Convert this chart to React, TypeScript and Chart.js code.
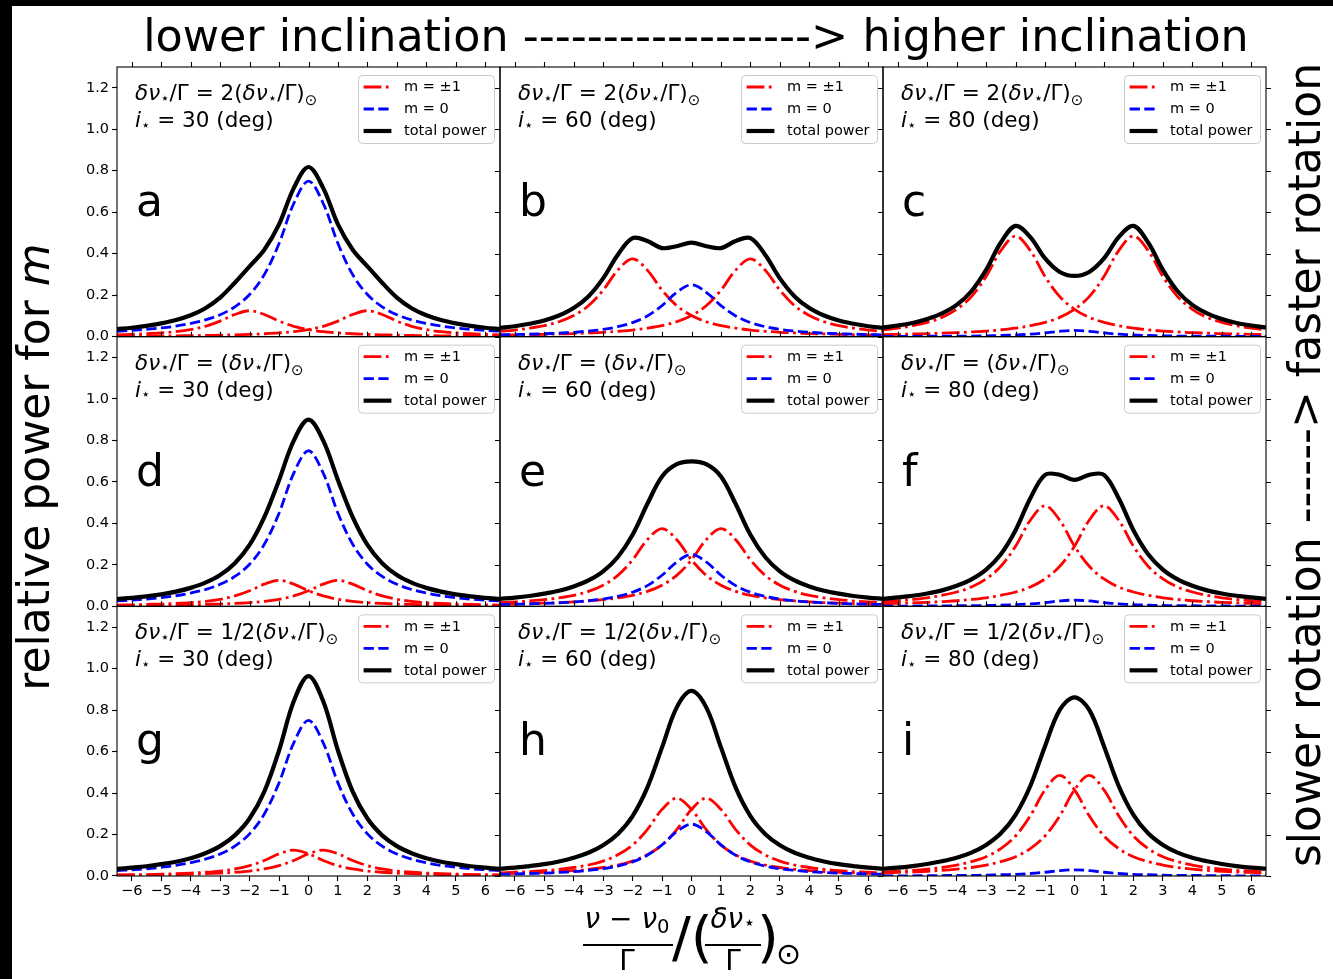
import React, { useEffect, useRef } from 'react';
import { Chart, registerables } from 'chart.js';
Chart.register(...registerables);

// ---------------- data ----------------
const X_VALUES = [-6.5, -6, -5.5, -5, -4.5, -4, -3.5, -3, -2.5, -2, -1.5, -1, -0.5, 0, 0.5, 1, 1.5, 2, 2.5, 3, 3.5, 4, 4.5, 5, 5.5, 6, 6.5];
const X_TICKS = [-6, -5, -4, -3, -2, -1, 0, 1, 2, 3, 4, 5, 6];
const Y_TICKS = [0, 0.2, 0.4, 0.6, 0.8, 1.0, 1.2];

const PANEL_LETTERS = ['a', 'b', 'c', 'd', 'e', 'f', 'g', 'h', 'i'];
const INCLINATIONS = ['30', '60', '80'];
const SPLIT_FACTORS = ['2', '', '1/2'];
const LEGEND_LABELS = ['m = \u00b11', 'm = 0', 'total power'];

// m = 0 component (same for every rotation rate)
const M0_I30 = [0.026, 0.030, 0.035, 0.042, 0.051, 0.064, 0.081, 0.106, 0.144, 0.203, 0.299, 0.449, 0.642, 0.750, 0.642, 0.449, 0.299, 0.203, 0.144, 0.106, 0.081, 0.064, 0.051, 0.042, 0.035, 0.030, 0.026];
const M0_I60 = [0.009, 0.010, 0.012, 0.014, 0.017, 0.021, 0.027, 0.035, 0.048, 0.068, 0.100, 0.150, 0.214, 0.250, 0.214, 0.150, 0.100, 0.068, 0.048, 0.035, 0.027, 0.021, 0.017, 0.014, 0.012, 0.010, 0.009];
const M0_I80 = [0.001, 0.001, 0.001, 0.002, 0.002, 0.003, 0.003, 0.004, 0.006, 0.008, 0.012, 0.018, 0.026, 0.030, 0.026, 0.018, 0.012, 0.008, 0.006, 0.004, 0.003, 0.003, 0.002, 0.002, 0.001, 0.001, 0.001];

// m = +1 / m = -1 components, fast rotation (top row)
const MP_I30_FAST = [0.003, 0.003, 0.003, 0.004, 0.004, 0.005, 0.006, 0.007, 0.009, 0.011, 0.014, 0.018, 0.024, 0.034, 0.050, 0.075, 0.107, 0.125, 0.107, 0.075, 0.050, 0.034, 0.024, 0.018, 0.014, 0.011, 0.009];
const MM_I30_FAST = [0.009, 0.011, 0.014, 0.018, 0.024, 0.034, 0.050, 0.075, 0.107, 0.125, 0.107, 0.075, 0.050, 0.034, 0.024, 0.018, 0.014, 0.011, 0.009, 0.007, 0.006, 0.005, 0.004, 0.004, 0.003, 0.003, 0.003];
const MP_I60_FAST = [0.008, 0.009, 0.010, 0.011, 0.013, 0.015, 0.018, 0.021, 0.026, 0.032, 0.041, 0.053, 0.072, 0.102, 0.149, 0.224, 0.321, 0.375, 0.321, 0.224, 0.149, 0.102, 0.072, 0.053, 0.041, 0.032, 0.026];
const MM_I60_FAST = [0.026, 0.032, 0.041, 0.053, 0.072, 0.102, 0.149, 0.224, 0.321, 0.375, 0.321, 0.224, 0.149, 0.102, 0.072, 0.053, 0.041, 0.032, 0.026, 0.021, 0.018, 0.015, 0.013, 0.011, 0.010, 0.009, 0.008];
const MP_I80_FAST = [0.010, 0.011, 0.013, 0.014, 0.017, 0.019, 0.023, 0.027, 0.033, 0.041, 0.053, 0.069, 0.093, 0.132, 0.193, 0.290, 0.415, 0.485, 0.415, 0.290, 0.193, 0.132, 0.093, 0.069, 0.053, 0.041, 0.033];
const MM_I80_FAST = [0.033, 0.041, 0.053, 0.069, 0.093, 0.132, 0.193, 0.290, 0.415, 0.485, 0.415, 0.290, 0.193, 0.132, 0.093, 0.069, 0.053, 0.041, 0.033, 0.027, 0.023, 0.019, 0.017, 0.014, 0.013, 0.011, 0.010];

// solar rotation (middle row)
const MP_I30_SUN = [0.003, 0.004, 0.004, 0.005, 0.006, 0.007, 0.009, 0.011, 0.014, 0.018, 0.024, 0.034, 0.050, 0.075, 0.107, 0.125, 0.107, 0.075, 0.050, 0.034, 0.024, 0.018, 0.014, 0.011, 0.009, 0.007, 0.006];
const MM_I30_SUN = [0.006, 0.007, 0.009, 0.011, 0.014, 0.018, 0.024, 0.034, 0.050, 0.075, 0.107, 0.125, 0.107, 0.075, 0.050, 0.034, 0.024, 0.018, 0.014, 0.011, 0.009, 0.007, 0.006, 0.005, 0.004, 0.004, 0.003];
const MP_I60_SUN = [0.010, 0.011, 0.013, 0.015, 0.018, 0.021, 0.026, 0.032, 0.041, 0.053, 0.072, 0.102, 0.149, 0.224, 0.321, 0.375, 0.321, 0.224, 0.149, 0.102, 0.072, 0.053, 0.041, 0.032, 0.026, 0.021, 0.018];
const MM_I60_SUN = [0.018, 0.021, 0.026, 0.032, 0.041, 0.053, 0.072, 0.102, 0.149, 0.224, 0.321, 0.375, 0.321, 0.224, 0.149, 0.102, 0.072, 0.053, 0.041, 0.032, 0.026, 0.021, 0.018, 0.015, 0.013, 0.011, 0.010];
const MP_I80_SUN = [0.013, 0.014, 0.017, 0.019, 0.023, 0.027, 0.033, 0.041, 0.053, 0.069, 0.093, 0.132, 0.193, 0.290, 0.415, 0.485, 0.415, 0.290, 0.193, 0.132, 0.093, 0.069, 0.053, 0.041, 0.033, 0.027, 0.023];
const MM_I80_SUN = [0.023, 0.027, 0.033, 0.041, 0.053, 0.069, 0.093, 0.132, 0.193, 0.290, 0.415, 0.485, 0.415, 0.290, 0.193, 0.132, 0.093, 0.069, 0.053, 0.041, 0.033, 0.027, 0.023, 0.019, 0.017, 0.014, 0.013];

// slow rotation (bottom row)
const MP_I30_SLOW = [0.004, 0.004, 0.005, 0.006, 0.007, 0.009, 0.011, 0.014, 0.018, 0.024, 0.034, 0.050, 0.075, 0.107, 0.125, 0.107, 0.075, 0.050, 0.034, 0.024, 0.018, 0.014, 0.011, 0.009, 0.007, 0.006, 0.005];
const MM_I30_SLOW = [0.005, 0.006, 0.007, 0.009, 0.011, 0.014, 0.018, 0.024, 0.034, 0.050, 0.075, 0.107, 0.125, 0.107, 0.075, 0.050, 0.034, 0.024, 0.018, 0.014, 0.011, 0.009, 0.007, 0.006, 0.005, 0.004, 0.004];
const MP_I60_SLOW = [0.011, 0.013, 0.015, 0.018, 0.021, 0.026, 0.032, 0.041, 0.053, 0.072, 0.102, 0.149, 0.224, 0.321, 0.375, 0.321, 0.224, 0.149, 0.102, 0.072, 0.053, 0.041, 0.032, 0.026, 0.021, 0.018, 0.015];
const MM_I60_SLOW = [0.015, 0.018, 0.021, 0.026, 0.032, 0.041, 0.053, 0.072, 0.102, 0.149, 0.224, 0.321, 0.375, 0.321, 0.224, 0.149, 0.102, 0.072, 0.053, 0.041, 0.032, 0.026, 0.021, 0.018, 0.015, 0.013, 0.011];
const MP_I80_SLOW = [0.014, 0.017, 0.019, 0.023, 0.027, 0.033, 0.041, 0.053, 0.069, 0.093, 0.132, 0.193, 0.290, 0.415, 0.485, 0.415, 0.290, 0.193, 0.132, 0.093, 0.069, 0.053, 0.041, 0.033, 0.027, 0.023, 0.019];
const MM_I80_SLOW = [0.019, 0.023, 0.027, 0.033, 0.041, 0.053, 0.069, 0.093, 0.132, 0.193, 0.290, 0.415, 0.485, 0.415, 0.290, 0.193, 0.132, 0.093, 0.069, 0.053, 0.041, 0.033, 0.027, 0.023, 0.019, 0.017, 0.014];

// total power
const TOTAL_A = [0.037, 0.043, 0.052, 0.064, 0.080, 0.103, 0.137, 0.188, 0.260, 0.339, 0.419, 0.541, 0.716, 0.818, 0.716, 0.541, 0.419, 0.339, 0.260, 0.188, 0.137, 0.103, 0.080, 0.064, 0.052, 0.043, 0.037];
const TOTAL_B = [0.042, 0.050, 0.062, 0.078, 0.102, 0.138, 0.194, 0.281, 0.395, 0.475, 0.461, 0.427, 0.436, 0.453, 0.436, 0.427, 0.461, 0.475, 0.395, 0.281, 0.194, 0.138, 0.102, 0.078, 0.062, 0.050, 0.042];
const TOTAL_C = [0.044, 0.054, 0.066, 0.085, 0.112, 0.153, 0.219, 0.322, 0.454, 0.534, 0.480, 0.377, 0.312, 0.293, 0.312, 0.377, 0.480, 0.534, 0.454, 0.322, 0.219, 0.153, 0.112, 0.085, 0.066, 0.054, 0.044];
const TOTAL_D = [0.035, 0.041, 0.048, 0.058, 0.071, 0.089, 0.114, 0.151, 0.208, 0.296, 0.430, 0.608, 0.799, 0.900, 0.799, 0.608, 0.430, 0.296, 0.208, 0.151, 0.114, 0.089, 0.071, 0.058, 0.048, 0.041, 0.035];
const TOTAL_E = [0.036, 0.042, 0.050, 0.061, 0.075, 0.096, 0.125, 0.169, 0.238, 0.345, 0.493, 0.626, 0.685, 0.699, 0.685, 0.626, 0.493, 0.345, 0.238, 0.169, 0.125, 0.096, 0.075, 0.061, 0.050, 0.042, 0.036];
const TOTAL_F = [0.036, 0.043, 0.051, 0.062, 0.077, 0.099, 0.130, 0.177, 0.251, 0.367, 0.521, 0.634, 0.634, 0.610, 0.634, 0.634, 0.521, 0.367, 0.251, 0.177, 0.130, 0.099, 0.077, 0.062, 0.051, 0.043, 0.036];
const TOTAL_G = [0.034, 0.040, 0.047, 0.057, 0.069, 0.086, 0.110, 0.144, 0.196, 0.277, 0.407, 0.605, 0.842, 0.964, 0.842, 0.605, 0.407, 0.277, 0.196, 0.144, 0.110, 0.086, 0.069, 0.057, 0.047, 0.040, 0.034];
const TOTAL_H = [0.035, 0.040, 0.048, 0.057, 0.070, 0.088, 0.112, 0.148, 0.203, 0.289, 0.426, 0.620, 0.813, 0.892, 0.813, 0.620, 0.426, 0.289, 0.203, 0.148, 0.112, 0.088, 0.070, 0.057, 0.048, 0.040, 0.035];
const TOTAL_I = [0.035, 0.040, 0.048, 0.058, 0.071, 0.088, 0.113, 0.150, 0.206, 0.295, 0.434, 0.626, 0.801, 0.861, 0.801, 0.626, 0.434, 0.295, 0.206, 0.150, 0.113, 0.088, 0.071, 0.058, 0.048, 0.040, 0.035];

const PANELS = [
  { row: 0, col: 0, mp: MP_I30_FAST, mm: MM_I30_FAST, m0: M0_I30, tot: TOTAL_A },
  { row: 0, col: 1, mp: MP_I60_FAST, mm: MM_I60_FAST, m0: M0_I60, tot: TOTAL_B },
  { row: 0, col: 2, mp: MP_I80_FAST, mm: MM_I80_FAST, m0: M0_I80, tot: TOTAL_C },
  { row: 1, col: 0, mp: MP_I30_SUN, mm: MM_I30_SUN, m0: M0_I30, tot: TOTAL_D },
  { row: 1, col: 1, mp: MP_I60_SUN, mm: MM_I60_SUN, m0: M0_I60, tot: TOTAL_E },
  { row: 1, col: 2, mp: MP_I80_SUN, mm: MM_I80_SUN, m0: M0_I80, tot: TOTAL_F },
  { row: 2, col: 0, mp: MP_I30_SLOW, mm: MM_I30_SLOW, m0: M0_I30, tot: TOTAL_G },
  { row: 2, col: 1, mp: MP_I60_SLOW, mm: MM_I60_SLOW, m0: M0_I60, tot: TOTAL_H },
  { row: 2, col: 2, mp: MP_I80_SLOW, mm: MM_I80_SLOW, m0: M0_I80, tot: TOTAL_I },
];

const TITLE_TOP = 'lower inclination ------------------> higher inclination';
const TITLE_RIGHT = 'slower rotation ------> faster rotation';

// ---------------- layout / style ----------------
const W = 1333;
const H = 979;
const PLOT_LEFT = 117;
const PLOT_RIGHT = 1266;
const PLOT_TOP = 67;
const PLOT_BOTTOM = 876;
const Y_AXIS_W = 60;
const X_AXIS_H = 30;
const FONT = "'DejaVu Sans', 'Liberation Sans', sans-serif";
const TICK_LEN = 5;
const RED = '#ff0000';
const BLUE = '#0000ff';
const BLACK = '#000000';
const DASHDOT = [17.8, 4.4, 2.8, 4.4];
const DASHED = [10.3, 4.4];
const LW_COMP = 2.8;
const LW_TOTAL = 4.2;

type Seg = { t: string; it?: boolean; sub?: boolean; dy?: number };

function drawRich(ctx: CanvasRenderingContext2D, x: number, y: number, segs: Seg[], size: number, align: 'left' | 'center' = 'left') {
  let total = 0;
  const items = segs.map((s) => {
    const fs = s.sub ? size * 0.7 : size;
    const font = `${s.it ? 'italic ' : ''}${fs}px ${FONT}`;
    ctx.font = font;
    const w = ctx.measureText(s.t).width;
    total += w;
    return { t: s.t, font, w, dy: s.dy !== undefined ? s.dy * size : s.sub ? size * 0.18 : 0 };
  });
  let cx = align === 'center' ? x - total / 2 : x;
  ctx.textAlign = 'left';
  ctx.textBaseline = 'alphabetic';
  for (const it of items) {
    ctx.font = it.font;
    ctx.fillText(it.t, cx, y + it.dy);
    cx += it.w;
  }
  return total;
}

function fmtTick(v: number) {
  return String(v).replace('-', '\u2212');
}

const decorPlugin = {
  id: 'decor',
  beforeDraw(chart: any) {
    const ctx: CanvasRenderingContext2D = chart.ctx;
    ctx.save();
    ctx.fillStyle = '#ffffff';
    ctx.fillRect(0, 0, W, H);
    ctx.fillStyle = '#000000';
    ctx.fillRect(0, 0, W, 6);
    ctx.fillRect(0, 0, 12, H);
    ctx.restore();
  },
  afterDraw(chart: any) {
    const ctx: CanvasRenderingContext2D = chart.ctx;
    ctx.save();
    ctx.fillStyle = '#000';
    ctx.strokeStyle = '#000';
    PANELS.forEach((p, idx) => {
      const xs = chart.scales['xc' + p.col];
      const ys = chart.scales['yr' + p.row];
      const left = xs.left, right = xs.right, top = ys.top, bottom = ys.bottom;
      // frame
      ctx.lineWidth = 1.1;
      ctx.setLineDash([]);
      ctx.strokeRect(left, top, right - left, bottom - top);
      // ticks
      ctx.beginPath();
      for (const v of X_TICKS) {
        const px = Math.round(xs.getPixelForValue(v)) + 0.5;
        ctx.moveTo(px, top);
        ctx.lineTo(px, top - TICK_LEN);
      }
      if (p.col > 0) {
        for (const v of Y_TICKS) {
          const py = Math.round(ys.getPixelForValue(v)) + 0.5;
          ctx.moveTo(left, py);
          ctx.lineTo(left - TICK_LEN, py);
        }
      }
      if (p.col === 2) {
        for (const v of Y_TICKS) {
          const py = Math.round(ys.getPixelForValue(v)) + 0.5;
          ctx.moveTo(right, py);
          ctx.lineTo(right + TICK_LEN, py);
        }
      }
      ctx.stroke();

      // panel letter
      ctx.font = `44px ${FONT}`;
      ctx.textAlign = 'left';
      ctx.textBaseline = 'alphabetic';
      ctx.fillText(PANEL_LETTERS[idx], left + 19, top + 149);

      // annotation
      const f = SPLIT_FACTORS[p.row];
      drawRich(ctx, left + 18, top + 33, [
        { t: '\u03b4\u03bd', it: true }, { t: '\u22c6', sub: true, dy: 0.12 }, { t: '/\u0393' }, { t: ' = ' }, { t: f + '(' },
        { t: '\u03b4\u03bd', it: true }, { t: '\u22c6', sub: true, dy: 0.12 }, { t: '/\u0393)' }, { t: '\u2299', sub: true, dy: 0.24 },
      ], 21.5);
      drawRich(ctx, left + 18, top + 60, [
        { t: 'i', it: true }, { t: '\u22c6', sub: true, dy: 0.12 }, { t: ' = ' + INCLINATIONS[p.col] + ' (deg)' },
      ], 21.5);

      // legend
      const bx = right - 142, by = top + 8, bw = 136, bh = 68;
      ctx.save();
      ctx.beginPath();
      (ctx as any).roundRect(bx + 0.5, by + 0.5, bw, bh, 4);
      ctx.fillStyle = 'rgba(255,255,255,0.8)';
      ctx.fill();
      ctx.strokeStyle = '#cccccc';
      ctx.lineWidth = 1;
      ctx.stroke();
      ctx.restore();
      const sx0 = bx + 5.6, sx1 = bx + 33.4;
      const rows = [by + 12, by + 34, by + 56];
      const styles = [
        { c: RED, lw: LW_COMP, d: DASHDOT },
        { c: BLUE, lw: LW_COMP, d: DASHED },
        { c: BLACK, lw: LW_TOTAL, d: [] as number[] },
      ];
      styles.forEach((s, k) => {
        ctx.save();
        ctx.strokeStyle = s.c;
        ctx.lineWidth = s.lw;
        ctx.setLineDash(s.d);
        ctx.lineCap = 'butt';
        ctx.beginPath();
        ctx.moveTo(sx0, rows[k]);
        ctx.lineTo(sx1, rows[k]);
        ctx.stroke();
        ctx.restore();
        ctx.font = `14.5px ${FONT}`;
        ctx.fillStyle = '#000';
        ctx.textBaseline = 'middle';
        ctx.textAlign = 'left';
        ctx.fillText(LEGEND_LABELS[k], bx + 46, rows[k] + 0.5);
      });
    });

    // top title
    ctx.fillStyle = '#000';
    ctx.font = `44.4px ${FONT}`;
    ctx.textAlign = 'center';
    ctx.textBaseline = 'alphabetic';
    ctx.fillText(TITLE_TOP, 696, 51);

    // right title
    ctx.save();
    ctx.translate(1320, 465);
    ctx.rotate(-Math.PI / 2);
    ctx.font = `44px ${FONT}`;
    ctx.textAlign = 'center';
    ctx.fillText(TITLE_RIGHT, 0, 0);
    ctx.restore();

    // left label
    ctx.save();
    ctx.translate(49, 467);
    ctx.rotate(-Math.PI / 2);
    drawRich(ctx, 0, 0, [{ t: 'relative power for ' }, { t: 'm', it: true }], 44, 'center');
    ctx.restore();

    // x label
    ctx.fillStyle = '#000';
    const fs = 28;
    drawRich(ctx, 627, 928, [{ t: '\u03bd', it: true }, { t: ' \u2212 ' }, { t: '\u03bd', it: true }, { t: '0', sub: true, dy: 0.18 }], fs, 'center');
    ctx.fillRect(583, 944, 90, 2);
    drawRich(ctx, 627, 970, [{ t: '\u0393' }], fs, 'center');
    ctx.font = `56px ${FONT}`;
    ctx.textAlign = 'left';
    ctx.fillText('/(', 672, 956);
    drawRich(ctx, 733, 928, [{ t: '\u03b4\u03bd', it: true }, { t: '\u22c6', sub: true, dy: 0.05 }], fs, 'center');
    ctx.fillRect(705, 944, 56, 2);
    drawRich(ctx, 733, 970, [{ t: '\u0393' }], fs, 'center');
    ctx.font = `56px ${FONT}`;
    ctx.textAlign = 'left';
    ctx.fillText(')', 757, 956);
    ctx.font = `30px ${FONT}`;
    ctx.fillText('\u2299', 776, 964);
    ctx.restore();
  },
};

function xScale(col: number) {
  return {
    type: 'linear',
    position: 'bottom',
    stack: 'cols',
    stackWeight: 1,
    min: -6.5,
    max: 6.5,
    afterFit: (s: any) => { s.height = X_AXIS_H; },
    afterBuildTicks: (s: any) => { s.ticks = X_TICKS.map((v) => ({ value: v })); },
    ticks: {
      color: '#000',
      font: { family: FONT, size: 14.5 },
      padding: 2,
      maxRotation: 0,
      autoSkip: false,
      callback: (v: number) => fmtTick(v),
    },
    grid: { drawOnChartArea: false, drawTicks: true, tickLength: TICK_LEN, tickColor: '#000', tickWidth: 1.1, color: '#000' },
    border: { display: false },
  };
}

function yScale(row: number) {
  return {
    type: 'linear',
    position: 'left',
    stack: 'rows',
    stackWeight: 1,
    min: 0,
    max: 1.3,
    afterFit: (s: any) => { s.width = Y_AXIS_W; },
    afterBuildTicks: (s: any) => { s.ticks = Y_TICKS.map((v) => ({ value: v })); },
    ticks: {
      color: '#000',
      font: { family: FONT, size: 14.5 },
      padding: 3,
      autoSkip: false,
      callback: (v: number) => v.toFixed(1),
    },
    grid: { drawOnChartArea: false, drawTicks: true, tickLength: TICK_LEN, tickColor: '#000', tickWidth: 1.1, color: '#000' },
    border: { display: false },
  };
}

function buildDatasets() {
  const ds: any[] = [];
  for (const p of PANELS) {
    const base = {
      xAxisID: 'xc' + p.col,
      yAxisID: 'yr' + p.row,
      pointRadius: 0,
      fill: false,
      tension: 0.35,
      clip: 0,
    };
    const pts = (arr: number[]) => X_VALUES.map((x, i) => ({ x, y: arr[i] }));
    ds.push({ ...base, label: 'm = +1', data: pts(p.mp), borderColor: RED, borderWidth: LW_COMP, borderDash: DASHDOT, order: 2 });
    ds.push({ ...base, label: 'm = -1', data: pts(p.mm), borderColor: RED, borderWidth: LW_COMP, borderDash: DASHDOT, order: 2 });
    ds.push({ ...base, label: 'm = 0', data: pts(p.m0), borderColor: BLUE, borderWidth: LW_COMP, borderDash: DASHED, order: 1 });
    ds.push({ ...base, label: 'total power', data: pts(p.tot), borderColor: BLACK, borderWidth: LW_TOTAL, order: 0 });
  }
  return ds;
}

export default function App() {
  const ref = useRef<HTMLCanvasElement>(null);
  useEffect(() => {
    document.body.style.margin = '0';
    document.body.style.overflow = 'hidden';
    const chart = new Chart(ref.current as HTMLCanvasElement, {
      type: 'line',
      data: { datasets: buildDatasets() },
      options: {
        responsive: false,
        maintainAspectRatio: false,
        animation: false,
        events: [],
        layout: {
          padding: {
            left: PLOT_LEFT - Y_AXIS_W,
            right: W - PLOT_RIGHT,
            top: PLOT_TOP,
            bottom: H - PLOT_BOTTOM - X_AXIS_H,
          },
        },
        plugins: { legend: { display: false }, tooltip: { enabled: false }, title: { display: false } },
        scales: {
          xc0: xScale(0),
          xc1: xScale(1),
          xc2: xScale(2),
          yr2: yScale(2),
          yr1: yScale(1),
          yr0: yScale(0),
        } as any,
      } as any,
      plugins: [decorPlugin],
    });
    return () => chart.destroy();
  }, []);
  return (
    <div style={{ position: 'absolute', left: 0, top: 0, width: W, height: H }}>
      <canvas ref={ref} width={W} height={H} style={{ display: 'block', width: W, height: H }} />
    </div>
  );
}
